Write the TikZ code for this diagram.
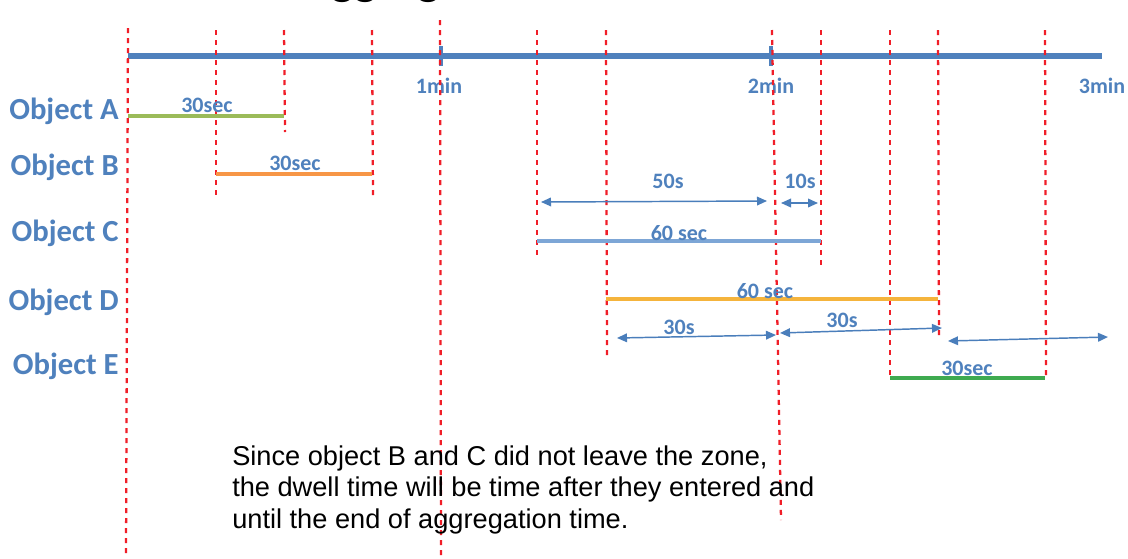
\documentclass[tikz,border=0pt]{standalone}
\usepackage{fontspec}
\setmainfont{Carlito}
\newfontfamily\arialfont{Liberation Sans}
\usetikzlibrary{arrows.meta}
\definecolor{lblue}{RGB}{79,129,189}
\definecolor{zred}{RGB}{240,30,40}
\definecolor{barA}{RGB}{155,187,89}
\definecolor{barB}{RGB}{247,150,70}
\definecolor{barC}{RGB}{125,166,214}
\definecolor{barD}{RGB}{245,180,60}
\definecolor{barE}{RGB}{62,170,80}
\definecolor{arrblue}{RGB}{74,126,187}
\tikzset{
  zone/.style={draw=zred,line width=1.7pt,dash pattern=on 3.75pt off 3.75pt},
  bar/.style={line width=3pt},
  span/.style={draw=arrblue,line width=1.1pt,{Triangle[length=7.5pt,width=6.5pt]}-{Triangle[length=7.5pt,width=6.5pt]}},
  objlabel/.style={font=\fontsize{23}{26}\selectfont\bfseries,text=lblue,anchor=base east,inner sep=0pt},
  small/.style={font=\fontsize{16.5}{19}\selectfont\bfseries,text=lblue,anchor=base,inner sep=0pt},
}
\begin{document}
\begin{tikzpicture}[x=0.75pt,y=-0.75pt]
\useasboundingbox (0,0) rectangle (1128,558);
\begin{scope}
\clip (0,0) rectangle (1128,558);
\fill[white] (0,0) rectangle (1128,558);
% title (only descenders visible, cut off at the top edge as in the reference)
\node[font=\fontsize{36}{40}\selectfont\bfseries,anchor=base west,inner sep=0pt] (title) at (302,-5.5) {Aggregation};
% timeline
\coordinate (t0) at (128,56);
\coordinate (t1) at (1102,56);
\draw[draw=lblue,line width=3.8pt] (t0) -- (t1);
\coordinate (k1a) at (441,46); \coordinate (k1b) at (441,66);
\coordinate (k2a) at (771,46); \coordinate (k2b) at (771,66);
\draw[draw=lblue,line width=2.4pt] (k1a) -- (k1b);
\draw[draw=lblue,line width=2.4pt] (k2a) -- (k2b);
\node[small] (m1) at (439,93) {1min};
\node[small] (m2) at (771,93) {2min};
\node[small] (m3) at (1102,93) {3min};
% zone lines
\coordinate (z1a) at (128,28);  \coordinate (z1b) at (126,556);
\coordinate (z2a) at (216,30);  \coordinate (z2b) at (216,197);
\coordinate (z3a) at (284,30);  \coordinate (z3b) at (285,132);
\coordinate (z4a) at (372,30);  \coordinate (z4b) at (373,197);
\coordinate (z5a) at (440,20);  \coordinate (z5b) at (441,556);
\coordinate (z6a) at (537,30);  \coordinate (z6b) at (537,260);
\coordinate (z7a) at (606,30);  \coordinate (z7b) at (607,358);
\coordinate (z8a) at (772,30);  \coordinate (z8b) at (781,520);
\coordinate (z9a) at (821,30);  \coordinate (z9b) at (821,270);
\coordinate (z10a) at (890,30); \coordinate (z10b) at (890,378);
\coordinate (z11a) at (938,30); \coordinate (z11b) at (939,335);
\coordinate (z12a) at (1045,30); \coordinate (z12b) at (1046,378);
\foreach \i in {1,...,12} {\draw[zone] (z\i a) -- (z\i b);}
% object labels
\node[objlabel] (oA) at (119,119) {Object A};
\node[objlabel] (oB) at (119,175) {Object B};
\node[objlabel] (oC) at (119,241) {Object C};
\node[objlabel] (oD) at (119,310) {Object D};
\node[objlabel] (oE) at (119,374) {Object E};
% bars
\coordinate (aS) at (128,116); \coordinate (aE) at (284,116);
\coordinate (bS) at (216,174); \coordinate (bE) at (372,174);
\coordinate (cS) at (537,241); \coordinate (cE) at (821,241);
\coordinate (dS) at (606,299); \coordinate (dE) at (938,299);
\coordinate (eS) at (890,378); \coordinate (eE) at (1045,378);
\draw[bar,draw=barA] (aS) -- (aE);
\draw[bar,draw=barB] (bS) -- (bE);
\draw[bar,draw=barC] (cS) -- (cE);
\draw[bar,draw=barD] (dS) -- (dE);
\draw[bar,draw=barE] (eS) -- (eE);
\node[small] (lA) at (207,112) {30sec};
\node[small] (lB) at (295,170) {30sec};
\node[small] (lC) at (679,240) {60 sec};
\node[small] (lD) at (765,298) {60 sec};
\node[small] (lE) at (967,375) {30sec};
% spans
\coordinate (s1a) at (541,202); \coordinate (s1b) at (767,201);
\coordinate (s2a) at (781,203); \coordinate (s2b) at (818,203);
\coordinate (s3a) at (617,338); \coordinate (s3b) at (776,335);
\coordinate (s4a) at (780,333); \coordinate (s4b) at (942,328);
\coordinate (s5a) at (948,341); \coordinate (s5b) at (1108,337);
\draw[span] (s1a) -- (s1b);
\draw[span] (s2a) -- (s2b);
\draw[span] (s3a) -- (s3b);
\draw[span] (s4a) -- (s4b);
\draw[span] (s5a) -- (s5b);
\node[small] (l50) at (668,188) {50s};
\node[small] (l10) at (800,188) {10s};
\node[small] (l30a) at (679,334) {30s};
\node[small] (l30b) at (842,327) {30s};
% note
\node[font=\arialfont\fontsize{20.4}{23.5}\selectfont,anchor=base west,inner sep=0pt,align=left] (note) at (232,528)
 {Since object B and C did not leave the zone,\\
  the dwell time will be time after they entered and\\
  until the end of aggregation time.};
\end{scope}
\end{tikzpicture}
\end{document}
